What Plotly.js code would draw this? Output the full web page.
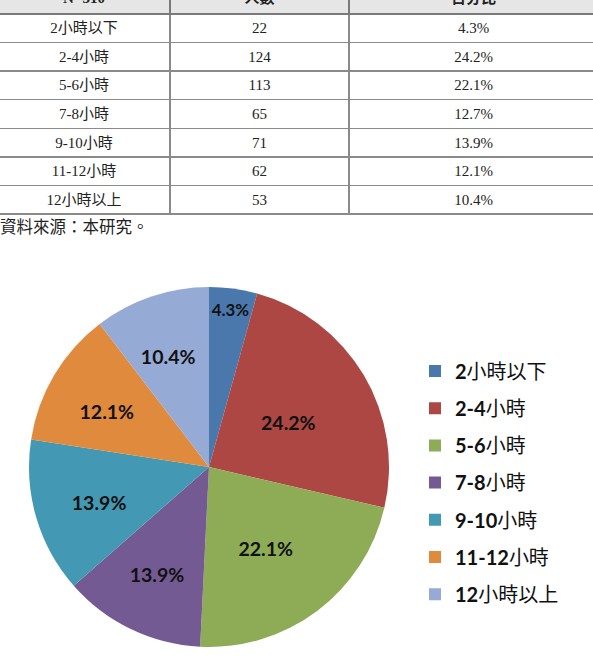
<!DOCTYPE html>
<html>
<head>
<meta charset="utf-8">
<script src="https://cdn.plot.ly/plotly-3.0.1.min.js"></script>
<style>
html,body{margin:0;padding:0;width:593px;height:663px;overflow:hidden;background:#fff;}
#chart{position:absolute;left:-2px;top:-18px;width:600px;height:681px;}
</style>
</head>
<body>
<div id="chart"></div>
<script>
// ---- data ----
var headers = ["N=510", "人數", "百分比"];
var categories = ["2小時以下", "2-4小時", "5-6小時", "7-8小時", "9-10小時", "11-12小時", "12小時以上"];
var counts = [22, 124, 113, 65, 71, 62, 53];
var percents = ["4.3%", "24.2%", "22.1%", "12.7%", "13.9%", "12.1%", "10.4%"];
var pieLabels = ["4.3%", "24.2%", "22.1%", "13.9%", "13.9%", "12.1%", "10.4%"];
var legendLabels = ["<b>2</b>小時以下", "<b>2-4</b>小時", "<b>5-6</b>小時", "<b>7-8</b>小時", "<b>9-10</b>小時", "<b>11-12</b>小時", "<b>12</b>小時以上"];
var sourceNote = "資料來源：本研究。";
var colors = ["#4a78ad", "#ac4744", "#8eab55", "#735a93", "#4399b4", "#e08a3d", "#95aad4"];

var W = 600, H = 681;
var serif = "Liberation Serif, 'Noto Sans CJK TC', serif";
var sans = "Lato, 'Noto Sans CJK TC', sans-serif";

// pie geometry (plot pixels)
var cx = 211, cy = 485, R = 180;
var lx = 209, ly = 489, Rlab = 160;

// the narrow first slice keeps its label on the full-size pie, the rest on the inner label pie
var outerText = pieLabels.map(function(t, i){ return i === 0 ? t : ""; });
var innerText = pieLabels.map(function(t, i){ return i === 0 ? "" : t; });

var traces = [];
traces.push({
  type: "table",
  domain: {x: [0, 1], y: [0.6, 1]},
  columnwidth: [172, 179, 249],
  header: {
    values: headers.map(function(h){ return "<b>" + h + "</b>"; }),
    align: "center",
    height: 29,
    fill: {color: "#e6e6e6"},
    line: {color: "#7a7a7a", width: 1.5},
    font: {family: serif, size: 15, color: "#222"}
  },
  cells: {
    values: [categories, counts, percents],
    align: "center",
    height: 28.57,
    fill: {color: "#ffffff"},
    line: {color: "#8a8a8a", width: 1.5},
    font: {family: serif, size: 15, color: "#222"}
  }
});

// coloured pie
traces.push({
  type: "pie",
  values: counts,
  labels: categories,
  text: outerText,
  textinfo: "text",
  textposition: "inside",
  insidetextorientation: "horizontal",
  textfont: {family: sans, size: 18, color: "#111", weight: "bold"},
  sort: false,
  direction: "clockwise",
  rotation: 0,
  showlegend: false,
  marker: {colors: colors, line: {width: 0}},
  domain: {x: [(cx - R) / W, (cx + R) / W], y: [1 - (cy + R) / H, 1 - (cy - R) / H]},
  hoverinfo: "label+percent"
});

// transparent pie carrying the other data labels, smaller so labels sit nearer the centre
traces.push({
  type: "pie",
  values: counts,
  labels: categories,
  text: innerText,
  textinfo: "text",
  textposition: "inside",
  insidetextorientation: "horizontal",
  sort: false,
  direction: "clockwise",
  rotation: 0,
  showlegend: false,
  marker: {colors: categories.map(function(){ return "rgba(0,0,0,0)"; }), line: {width: 0}},
  textfont: {family: sans, size: 19.5, color: "#111", weight: "bold"},
  domain: {x: [(lx - Rlab) / W, (lx + Rlab) / W], y: [1 - (ly + Rlab) / H, 1 - (ly - Rlab) / H]},
  hoverinfo: "skip"
});

for (var i = 0; i < categories.length; i++) {
  traces.push({
    type: "scatter",
    mode: "markers",
    x: [null], y: [null],
    name: legendLabels[i],
    legendgroup: "g" + i,
    marker: {symbol: "square", size: 12, color: colors[i]},
    hoverinfo: "skip"
  });
}

var layout = {
  width: W, height: H,
  margin: {l: 0, r: 0, t: 0, b: 0},
  paper_bgcolor: "#ffffff",
  plot_bgcolor: "#ffffff",
  xaxis: {visible: false, domain: [0.99, 1]},
  yaxis: {visible: false, domain: [0.99, 1]},
  showlegend: true,
  legend: {
    x: 417 / W, xanchor: "left",
    y: 1 - 369.5 / H, yanchor: "top",
    tracegroupgap: 8.2,
    font: {family: sans, size: 20, color: "#111"},
    bgcolor: "rgba(0,0,0,0)",
    borderwidth: 0
  },
  annotations: [{
    text: sourceNote,
    xref: "paper", yref: "paper",
    x: 0, y: 1 - 246 / H,
    xanchor: "left", yanchor: "middle",
    showarrow: false,
    font: {family: serif, size: 16.5, color: "#222"}
  }]
};

Plotly.newPlot("chart", traces, layout, {displayModeBar: false, staticPlot: true});
</script>
</body>
</html>
